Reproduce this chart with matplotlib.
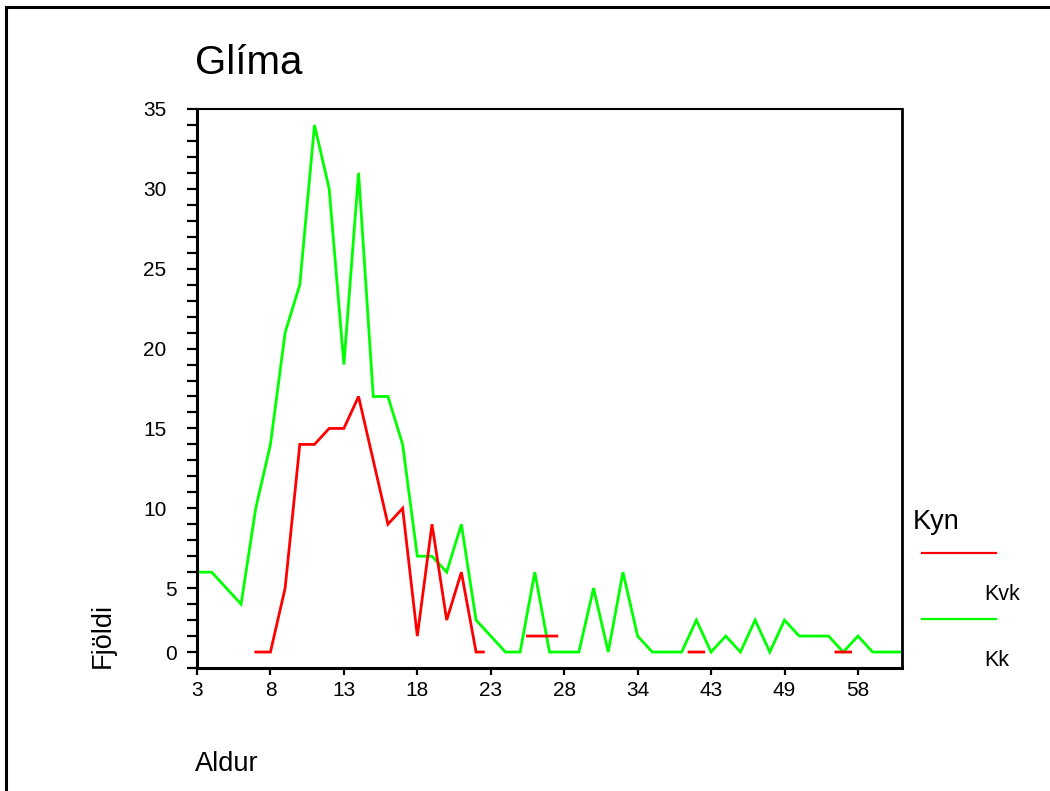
import numpy as np
import matplotlib
matplotlib.use("Agg")
import matplotlib.pyplot as plt
from matplotlib.lines import Line2D

plt.rcParams['font.family'] = ['Liberation Sans', 'DejaVu Sans']

# --- data (one entry per age category) ---
ages = [3, 4, 5, 6, 7, 8, 9, 10, 11, 12, 13, 14, 15, 16, 17, 18, 19, 20,
        21, 22, 23, 24, 25, 26, 27, 28, 29, 30, 31, 32, 34, 35, 37, 39, 41,
        43, 44, 45, 46, 48, 49, 50, 51, 53, 55, 58, 60, 62, 65]

kk = [6, 6, 5, 4, 10, 14, 21, 24, 34, 30,
      19, 31, 17, 17, 14, 7, 7, 6, 9, 3,
      2, 1, 1, 6, 1, 1, 1, 5, 1, 6,
      2, 1, 1, 1, 3, 1, 2, 1, 3, 1,
      3, 2, 2, 2, 1, 2, 1, 1, 1]

nan = np.nan
kvk = [nan, nan, nan, nan, 1, 1, 5, 14, 14, 15,
       15, 17, 13, 9, 10, 2, 9, 3, 6, 1,
       nan, nan, nan, 2, 2, nan, nan, nan, nan, nan,
       nan, nan, nan, nan, 1, nan, nan, nan, nan, nan,
       nan, nan, nan, nan, 1, nan, nan, nan, nan]

# y axis labels as printed on the chart
y_label_pos = [1, 5, 10, 15, 20, 25, 30, 35]
y_label_txt = ['0', '5', '10', '15', '20', '25', '30', '35']

series_names = ['Kvk', 'Kk']
colors = ['#ff0000', '#00ff00']

W, H = 1050, 791
fig = plt.figure(figsize=(W / 100, H / 100), dpi=100)
ax = fig.add_axes([197 / W, 1 - 668 / H, (902 - 197) / W, (668 - 109) / H])

x = np.arange(len(ages))
ax.plot(x, kk, color=colors[1], lw=2.0, solid_joinstyle='miter')

# red line: runs broken by missing values get a half-step stub into the gap
vals = np.array(kvk, dtype=float)
first = int(np.argmax(~np.isnan(vals)))
xs, ys = [], []
for i, v in enumerate(vals):
    if np.isnan(v):
        xs.append(i)
        ys.append(nan)
        continue
    if i > first and np.isnan(vals[i - 1]):
        xs.append(i - 0.5)
        ys.append(v)
    xs.append(i)
    ys.append(v)
    if i < len(vals) - 1 and np.isnan(vals[i + 1]):
        xs.append(i + 0.5)
        ys.append(v)
ax.plot(xs, ys, color=colors[0], lw=2.0, solid_joinstyle='miter')

ax.set_xlim(0, len(ages) - 1)
ax.set_ylim(0, 35)

ax.set_xticks(x[::5])
ax.set_xticklabels([str(a) for a in ages[::5]])
ax.set_yticks(np.arange(0, 36))
lab = {p: t for p, t in zip(y_label_pos, y_label_txt)}
ax.set_yticklabels([lab.get(v, '') for v in range(0, 36)])

ax.tick_params(axis='y', length=7, width=1.6, labelsize=15, pad=15)
ax.tick_params(axis='x', length=5, width=1.6, labelsize=15, pad=4)
for t, v in zip(ax.yaxis.get_major_ticks(), range(0, 36)):
    if len(lab.get(v, '')) == 1:
        t.set_pad(7.5)

ax.spines['left'].set_linewidth(2.2)
ax.spines['bottom'].set_linewidth(2.2)
ax.spines['top'].set_linewidth(1.5)
ax.spines['right'].set_linewidth(2.0)

# texts
fig.text(195 / W, 1 - 74 / H, 'Glíma', fontsize=29, ha='left', va='baseline')
fig.text(195 / W, 1 - 771 / H, 'Aldur', fontsize=19.5, ha='left', va='baseline')
fig.text(103 / W, 1 - 668 / H, 'Fjöldi', fontsize=19.5, rotation=90,
         ha='center', va='bottom')

# legend, drawn the SPSS way
fig.text(913 / W, 1 - 529 / H, 'Kyn', fontsize=19.5, ha='left', va='baseline')
for k, (name, c) in enumerate(zip(series_names, colors)):
    ly = 553 + k * 66
    fig.add_artist(Line2D([922 / W, 996 / W], [1 - ly / H, 1 - ly / H],
                          transform=fig.transFigure, color=c, lw=1.6))
    fig.text(984 / W, 1 - (ly + 47) / H, name, fontsize=15.5,
             ha='left', va='baseline')

# outer frame (only top and left edges are inside the picture)
fig.add_artist(Line2D([7 / W, 1], [1 - 7 / H, 1 - 7 / H],
                      transform=fig.transFigure, color='black', lw=2.2))
fig.add_artist(Line2D([6 / W, 6 / W], [0, 1 - 7 / H],
                      transform=fig.transFigure, color='black', lw=2.2))

fig.savefig('out.png', dpi=100)
